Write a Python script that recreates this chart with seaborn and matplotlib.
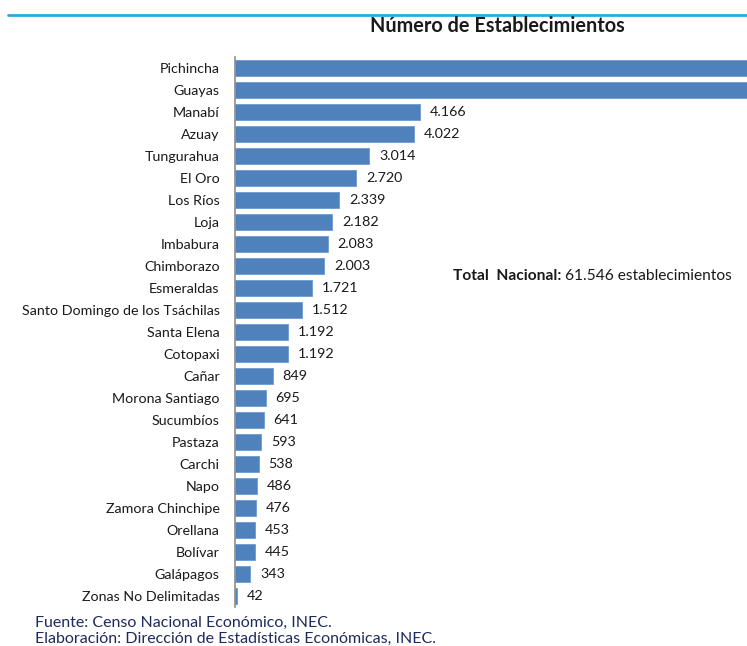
import matplotlib
matplotlib.use("Agg")
import matplotlib.pyplot as plt
import seaborn as sns
import pandas as pd
from matplotlib.lines import Line2D

provincias = [
    "Pichincha", "Guayas", "Manabí", "Azuay", "Tungurahua", "El Oro", "Los Ríos",
    "Loja", "Imbabura", "Chimborazo", "Esmeraldas", "Santo Domingo de los Tsáchilas",
    "Santa Elena", "Cotopaxi", "Cañar", "Morona Santiago", "Sucumbíos", "Pastaza",
    "Carchi", "Napo", "Zamora Chinchipe", "Orellana", "Bolívar", "Galápagos",
    "Zonas No Delimitadas",
]
establecimientos = [
    14256, 13583, 4166, 4022, 3014, 2720, 2339, 2182, 2083, 2003, 1721, 1512,
    1192, 1192, 849, 695, 641, 593, 538, 486, 476, 453, 445, 343, 42,
]
x_max = 11500

df = pd.DataFrame({"provincia": provincias, "n": establecimientos})

sns.set_theme(style="white")
plt.rcParams["font.family"] = ["Lato", "DejaVu Sans"]

W, H = 747, 646
fig = plt.figure(figsize=(W / 100, H / 100), dpi=100)
ax = fig.add_axes([235 / W, 1 - 607 / H, 1 - 235 / W, 550 / H])

sns.barplot(data=df, x="n", y="provincia", orient="h", color="#4f81bd",
            saturation=1, width=0.76, edgecolor="#6f9bd0", linewidth=0.6, ax=ax)

ax.set_xlim(0, x_max)
ax.set_ylim(len(provincias) - 0.5, -0.5)
ax.set_xlabel("")
ax.set_ylabel("")
ax.set_xticks([])
for s in ["top", "right", "bottom"]:
    ax.spines[s].set_visible(False)
ax.spines["left"].set_color("#8c8c8c")
ax.spines["left"].set_linewidth(1.2)
ax.tick_params(axis="y", length=0, pad=11, labelsize=10.3, labelcolor="#1a1a1a")


def miles(v):
    return f"{v:,}".replace(",", ".")


etiquetas = [miles(v) if v < x_max else "" for v in establecimientos]
ax.bar_label(ax.containers[0], labels=etiquetas, padding=7, fontsize=10.3,
             color="#1a1a1a")

# header rule and title
fig.add_artist(Line2D([8 / W, 1], [1 - 15 / H, 1 - 15 / H], color="#29abe2",
                      linewidth=2.0))
fig.text(497 / W, 1 - 26 / H, "Número de Establecimientos", ha="center",
         va="center", fontsize=14.3, fontweight="bold", color="#1a1a1a")

# national total
t1 = fig.text(453 / W, 1 - 276 / H, "Total  Nacional:", ha="left", va="center",
              fontsize=11.2, fontweight="bold", color="#1a1a1a")
ax.annotate(" 61.546 establecimientos", xy=(1, 0.5), xycoords=t1, ha="left",
            va="center", fontsize=11.2, color="#1a1a1a")

# source notes
nota = "#1f2a5c"
fig.text(35 / W, 1 - 623 / H, "Fuente: Censo Nacional Económico, INEC.",
         ha="left", va="center", fontsize=11.5, color=nota)
fig.text(35 / W, 1 - 639 / H, "Elaboración: Dirección de Estadísticas Económicas, INEC.",
         ha="left", va="center", fontsize=11.5, color=nota)

fig.savefig("out.png", dpi=100)
